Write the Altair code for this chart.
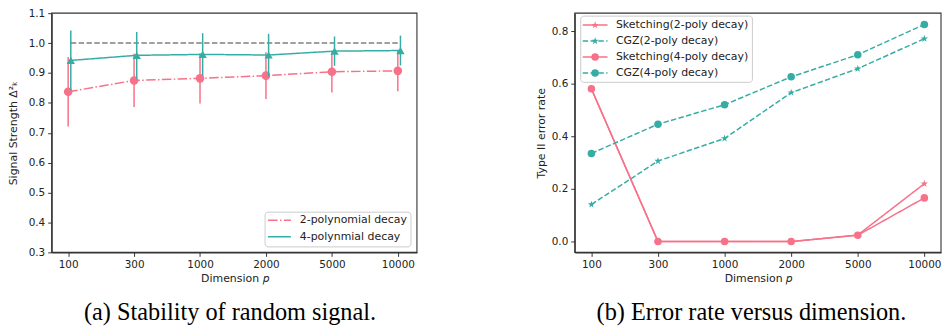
import altair as alt
import pandas as pd

# ---------------- data ----------------
dims = ["100", "300", "1000", "2000", "5000", "10000"]

# panel (a)
series_a = ["2-polynomial decay", "4-polynmial decay"]
poly2_mean = [0.837, 0.875, 0.882, 0.891, 0.904, 0.907]
poly2_err = [0.116, 0.089, 0.084, 0.078, 0.069, 0.068]
poly4_mean = [0.942, 0.959, 0.962, 0.960, 0.973, 0.975]
poly4_err = [0.100, 0.078, 0.071, 0.071, 0.049, 0.050]
poly4_shift = 0.04
reference_level = 1.0

# panel (b)
series_b = ["Sketching(2-poly decay)", "CGZ(2-poly decay)",
            "Sketching(4-poly decay)", "CGZ(4-poly decay)"]
sketch2 = [0.580, 0.0, 0.0, 0.0, 0.025, 0.220]
cgz2 = [0.141, 0.306, 0.392, 0.566, 0.657, 0.771]
sketch4 = [0.581, 0.0, 0.0, 0.0, 0.024, 0.166]
cgz4 = [0.335, 0.446, 0.520, 0.626, 0.710, 0.825]

captions = ["(a) Stability of random signal.", "(b) Error rate versus dimension."]
x_title = "Dimension 𝑝"

# ---------------- style ----------------
RED = "#f77189"
TEAL = "#36ada4"
DASHDOT = [9.6, 2.4, 1.5, 2.4]
DASHED = [5.5, 2.4]
SOLID = [1, 0]
STAR = ("M0,-1L0.225,-0.309L0.951,-0.309L0.363,0.118L0.588,0.809L0,0.382"
        "L-0.588,0.809L-0.363,0.118L-0.951,-0.309L-0.225,-0.309Z")
FONT = "DejaVu Sans"
FRAME = "#333333"
TOP = 4                  # padding above the plot areas
W1, W2, H = 368, 369, 241
GAP = 159
XB0 = W1 + GAP            # left edge of panel (b) inside the single view
WTOT = XB0 + W2

label_expr = "[" + ",".join("'%s'" % d for d in dims) + "][round(datum.value)]"
ONE = pd.DataFrame({"k": [0]})


def py(page_y):
    """page y coordinate -> y inside the view"""
    return page_y - 8 - TOP


def x_axis():
    return alt.Axis(values=list(range(len(dims))), labelExpr=label_expr, orient="bottom",
                    title=x_title, labelFlush=False, labelOverlap=False, titlePadding=3)


def frame(x0, x1):
    return alt.Chart(ONE).mark_rect(fillOpacity=0, stroke=FRAME, strokeWidth=1.1).encode(
        x=alt.value(x0), x2=alt.value(x1), y=alt.value(0), y2=alt.value(H))


def legend_box(x0, x1, y0, y1):
    return alt.Chart(ONE).mark_rect(
        fill="white", fillOpacity=0.8, stroke="#cccccc", strokeWidth=1, cornerRadius=3
    ).encode(x=alt.value(x0), x2=alt.value(x1), y=alt.value(y0), y2=alt.value(y1))


def legend_row(label, color, dash, x0, x1, xt, y, shape=None, size=58):
    out = [alt.Chart(ONE).mark_rule(color=color, strokeWidth=1.5, strokeDash=dash).encode(
        x=alt.value(x0), x2=alt.value(x1), y=alt.value(y))]
    if shape is not None:
        out.append(alt.Chart(ONE).mark_point(color=color, filled=True, opacity=1, shape=shape,
                                             size=size).encode(
            x=alt.value((x0 + x1) / 2), y=alt.value(y)))
    out.append(alt.Chart(pd.DataFrame({"t": [label]})).mark_text(
        align="left", baseline="middle", font=FONT, fontSize=11, color="#222222").encode(
        x=alt.value(xt), y=alt.value(y), text="t:N"))
    return out


def caption(text, x):
    return alt.Chart(pd.DataFrame({"t": [text]})).mark_text(
        font="Liberation Serif", fontSize=24.5, color="black", align="center", baseline="alphabetic"
    ).encode(x=alt.value(x), y=alt.value(py(321)), text="t:N")


# ---------------- panel (a) ----------------
idx = list(range(len(dims)))
df_a = pd.concat([
    pd.DataFrame({"series": series_a[0], "x": idx, "m": poly2_mean,
                  "lo": [m - e for m, e in zip(poly2_mean, poly2_err)],
                  "hi": [m + e for m, e in zip(poly2_mean, poly2_err)]}),
    pd.DataFrame({"series": series_a[1], "x": [i + poly4_shift for i in idx], "m": poly4_mean,
                  "lo": [m - e for m, e in zip(poly4_mean, poly4_err)],
                  "hi": [m + e for m, e in zip(poly4_mean, poly4_err)]}),
])

xa = alt.Scale(domain=[-0.25, 5.29], range=[0, W1], nice=False, zero=False)
ya = alt.Scale(domain=[0.3, 1.1], range=[H, 0], nice=False, zero=False)
ya_axis = alt.Axis(values=[0.3, 0.4, 0.5, 0.6, 0.7, 0.8, 0.9, 1.0, 1.1], format=".1f", orient="left",
                   title="Signal Strength Δ²ₖ", titlePadding=10)

layers = []
df_ref = df_a[df_a.series == series_a[1]]
layers.append(alt.Chart(df_ref).mark_rule(
    color="#808080", strokeWidth=1.5, strokeDash=DASHED
).transform_aggregate(x0="min(x)", x1="max(x)").transform_calculate(r=str(reference_level)).encode(
    x=alt.X("x0:Q", scale=xa, axis=x_axis()), x2="x1:Q",
    y=alt.Y("r:Q", scale=ya, axis=ya_axis)))

for s, col, dash, shape, size in [(series_a[0], RED, DASHDOT, "circle", 75),
                                  (series_a[1], TEAL, SOLID, "triangle-up", 70)]:
    d = alt.Chart(df_a[df_a.series == s])
    layers.append(d.mark_rule(color=col, strokeWidth=1.5).encode(
        x=alt.X("x:Q", scale=xa, axis=None), y=alt.Y("lo:Q", scale=ya, axis=None), y2="hi:Q"))
    layers.append(d.mark_line(color=col, strokeWidth=1.5, strokeDash=dash).encode(
        x=alt.X("x:Q", scale=xa, axis=None), y=alt.Y("m:Q", scale=ya, axis=None)))
    layers.append(d.mark_point(color=col, filled=True, opacity=1, shape=shape, size=size).encode(
        x=alt.X("x:Q", scale=xa, axis=None), y=alt.Y("m:Q", scale=ya, axis=None)))

layers += [frame(0, W1), legend_box(215, 362, py(212.5), py(247.5))]
for i, (s, col, dash) in enumerate(zip(series_a, [RED, TEAL], [DASHDOT, SOLID])):
    layers += legend_row(s, col, dash, 218, 241, 250, py(220.7 + 16.6 * i))
layers.append(caption(captions[0], 179.7))

# ---------------- panel (b) ----------------
vals_b = [sketch2, cgz2, sketch4, cgz4]
styles_b = [(RED, SOLID, STAR, 60), (TEAL, DASHED, STAR, 60),
            (RED, SOLID, "circle", 58), (TEAL, DASHED, "circle", 58)]
df_b = pd.concat([pd.DataFrame({"series": s, "x": idx, "v": v}) for s, v in zip(series_b, vals_b)])

xb = alt.Scale(domain=[-0.25, 5.25], range=[XB0, WTOT], nice=False, zero=False)
yb = alt.Scale(domain=[-0.041, 0.868], range=[H, 0], nice=False, zero=False)
yb_axis = alt.Axis(values=[0.0, 0.2, 0.4, 0.6, 0.8], format=".1f", title="Type II error rate",
                   orient="left", offset=-XB0, titlePadding=5)

for i, (s, (col, dash, shape, size)) in enumerate(zip(series_b, styles_b)):
    d = alt.Chart(df_b[df_b.series == s])
    layers.append(d.mark_line(color=col, strokeWidth=1.5, strokeDash=dash).encode(
        x=alt.X("x:Q", scale=xb, axis=x_axis() if i == 0 else None),
        y=alt.Y("v:Q", scale=yb, axis=yb_axis if i == 0 else None)))
    layers.append(d.mark_point(color=col, filled=True, opacity=1, shape=shape, size=size).encode(
        x=alt.X("x:Q", scale=xb, axis=None), y=alt.Y("v:Q", scale=yb, axis=None)))

layers += [frame(XB0, WTOT), legend_box(XB0 + 6, XB0 + 179, py(15), py(81.7))]
for i, (s, (col, dash, shape, size)) in enumerate(zip(series_b, styles_b)):
    layers += legend_row(s, col, dash, XB0 + 8, XB0 + 33, XB0 + 41.5, py(24 + 16.1 * i), shape, size)
layers.append(caption(captions[1], XB0 + 178))

chart = alt.layer(*layers).resolve_scale(x="independent", y="independent").properties(
    width=WTOT, height=H,
    autosize=alt.AutoSizeParams(type="none"),
    padding={"left": 44, "top": TOP, "right": 1, "bottom": 320 - TOP - H},
).configure_view(stroke=None).configure_axis(
    grid=False, labelFont=FONT, labelFontSize=10.5, labelColor="#222222", labelPadding=3,
    tickColor=FRAME, tickSize=4, tickWidth=1, domainColor=FRAME, domainWidth=1.1,
    titleFont=FONT, titleFontSize=11, titleFontWeight="normal", titleColor="#222222",
)

chart.save("out.html", embed_options={"renderer": "svg", "actions": False})
